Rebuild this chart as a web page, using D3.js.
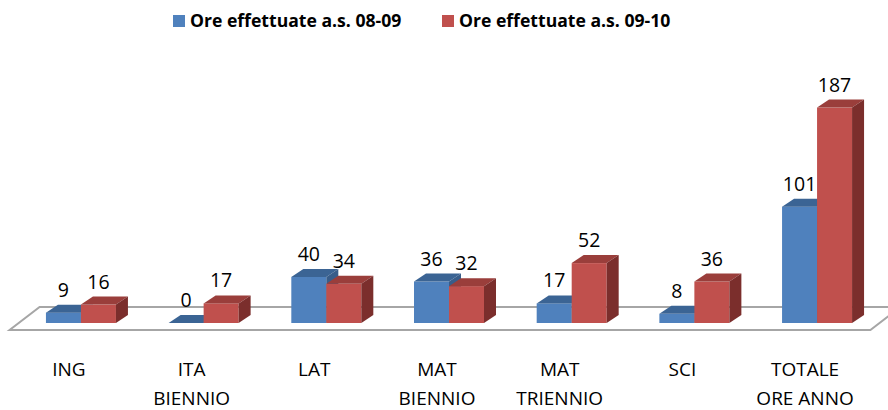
<!DOCTYPE html>
<html>
<head>
<meta charset="utf-8">
<script src="https://cdn.jsdelivr.net/npm/d3@7"></script>
<style>
  body { margin: 0; background: #fff; }
  svg { font-family: "Open Sans", sans-serif; }
</style>
</head>
<body>
<svg id="chart"></svg>
<script>
var categories = ["ING", "ITA\nBIENNIO", "LAT", "MAT\nBIENNIO", "MAT\nTRIENNIO", "SCI", "TOTALE\nORE ANNO"];
var seriesNames = ["Ore effettuate a.s. 08-09", "Ore effettuate a.s. 09-10"];
var hours0809 = [9, 0, 40, 36, 17, 8, 101];
var hours0910 = [16, 17, 34, 32, 52, 36, 187];

var width = 888;
var height = 410;

var colors = [
  { front: "#4F81BD", top: "#3B6494", side: "#385D8A" },
  { front: "#C0504D", top: "#9A3E3B", side: "#7B2E2C" }
];

// 3d depth offset for the bars
var dx = 12, dy = -8;

var svg = d3.select("#chart")
    .attr("width", width)
    .attr("height", height);

var x0 = d3.scaleBand()
    .domain(categories)
    .range([19.6, 878.4]);

var x1 = d3.scaleBand()
    .domain([0, 1])
    .range([-35, 35]);

var baseY = 323;
var y = d3.scaleLinear()
    .domain([0, 200])
    .range([baseY, baseY - 230.4]);

// floor
var fl = x0.range()[0] - 10, fr = x0.range()[1] - 8;
svg.append("path")
    .attr("d", "M" + fl + ",330 L" + fr + ",330 L" + (fr + 30) + ",307 L" + (fl + 30) + ",307 Z")
    .attr("fill", "#fff")
    .attr("stroke", "#A6A6A6")
    .attr("stroke-width", 2);

var rows = categories.map((c, i) => ({ cat: c, values: [hours0809[i], hours0910[i]] }));

var groups = svg.selectAll(".group")
  .data(rows)
  .enter()
  .append("g")
    .attr("class", "group")
    .attr("transform", d => "translate(" + (x0(d.cat) + x0.bandwidth() / 2) + ",0)");

groups.each(function(d) {
  var g = d3.select(this);
  d.values.forEach((v, s) => {
    var xl = x1(s), xr = x1(s) + x1.bandwidth();
    var yt = y(v);
    var c = colors[s];
    g.append("rect")
        .attr("x", xl)
        .attr("y", yt)
        .attr("width", xr - xl)
        .attr("height", baseY - yt)
        .attr("fill", c.front);
    g.append("path")
        .attr("d", "M" + xl + "," + yt + " L" + (xl + dx) + "," + (yt + dy) +
                   " L" + (xr + dx) + "," + (yt + dy) + " L" + xr + "," + yt + " Z")
        .attr("fill", c.top);
    g.append("path")
        .attr("d", "M" + xr + "," + yt + " L" + (xr + dx) + "," + (yt + dy) +
                   " L" + (xr + dx) + "," + (baseY + dy) + " L" + xr + "," + baseY + " Z")
        .attr("fill", c.side);
  });
  d.values.forEach((v, s) => {
    g.append("text")
        .attr("x", x1(s) + x1.bandwidth() / 2)
        .attr("y", y(v) - 16)
        .attr("text-anchor", "middle")
        .style("font-size", "19.5px")
        .attr("fill", "#000")
        .text(v);
  });

  var label = g.append("text")
      .attr("x", -12)
      .attr("y", 376)
      .attr("text-anchor", "middle")
      .style("font-size", "19px")
      .attr("fill", "#000");
  d.cat.split("\n").forEach((line, k) => {
    label.append("tspan")
        .attr("x", -12)
        .attr("y", 376 + k * 29)
        .text(line);
  });
});

// legend
var legendX = [173, 442];
seriesNames.forEach((name, s) => {
  svg.append("rect")
      .attr("x", legendX[s])
      .attr("y", 15)
      .attr("width", 12)
      .attr("height", 12)
      .attr("fill", colors[s].front);
  svg.append("text")
      .attr("x", legendX[s] + 17)
      .attr("y", 27)
      .style("font-size", "17.6px")
      .style("font-weight", "bold")
      .attr("fill", "#000")
      .text(name);
});
</script>
</body>
</html>
